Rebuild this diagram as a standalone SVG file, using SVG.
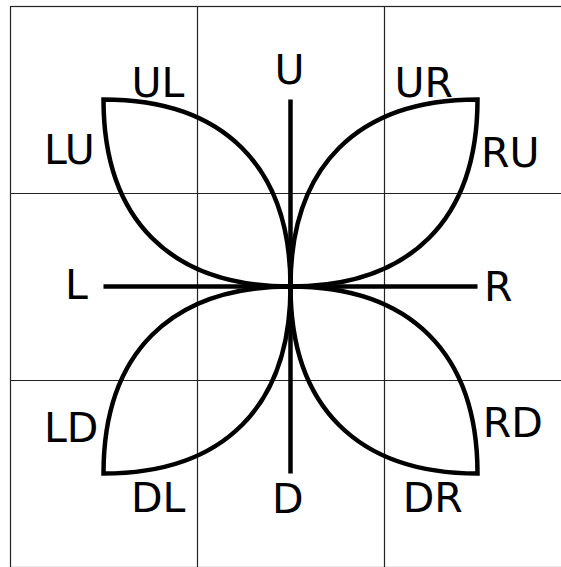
<svg xmlns="http://www.w3.org/2000/svg" width="561" height="567" viewBox="0 0 561 567">
<style>
.grid{fill:none;stroke:#222;stroke-width:1.2}
.petal{fill:none;stroke:#000;stroke-width:4.5;stroke-linejoin:miter}
.axis{stroke:#000;stroke-width:4.5;fill:none}
.lbl{font-family:"DejaVu Sans",sans-serif;font-size:41px;fill:#000}
</style>
<rect width="561" height="567" fill="#fff"/>
<g id="grid">
<rect class="grid" x="10.5" y="6.5" width="561" height="561"/>
<line class="grid" x1="197.5" y1="6.5" x2="197.5" y2="567"/>
<line class="grid" x1="384.5" y1="6.5" x2="384.5" y2="567"/>
<line class="grid" x1="10.5" y1="193.5" x2="561" y2="193.5"/>
<line class="grid" x1="10.5" y1="380.5" x2="561" y2="380.5"/>
</g>
<g id="connectors">
<line class="axis" x1="290.5" y1="99.5" x2="290.5" y2="473.5"/>
<line class="axis" x1="103.5" y1="286.5" x2="477.5" y2="286.5"/>
</g>
<g id="petal-ul"><path class="petal" d="M103.5 99.5 C223.5 99.5 290.5 166.5 290.5 286.5 C170.5 286.5 103.5 219.5 103.5 99.5 Z"/></g>
<g id="petal-ur"><path class="petal" d="M477.5 99.5 C357.5 99.5 290.5 166.5 290.5 286.5 C410.5 286.5 477.5 219.5 477.5 99.5 Z"/></g>
<g id="petal-dl"><path class="petal" d="M103.5 473.5 C223.5 473.5 290.5 406.5 290.5 286.5 C170.5 286.5 103.5 353.5 103.5 473.5 Z"/></g>
<g id="petal-dr"><path class="petal" d="M477.5 473.5 C357.5 473.5 290.5 406.5 290.5 286.5 C410.5 286.5 477.5 353.5 477.5 473.5 Z"/></g>
<g id="labels">
<text class="lbl" x="274.4" y="84">U</text>
<text class="lbl" x="272" y="513">D</text>
<text class="lbl" x="65" y="299">L</text>
<text class="lbl" x="484" y="301">R</text>
<text class="lbl" x="131.4" y="97">UL</text>
<text class="lbl" x="44" y="164">LU</text>
<text class="lbl" x="394.4" y="97">UR</text>
<text class="lbl" x="481" y="167">RU</text>
<text class="lbl" x="44" y="442">LD</text>
<text class="lbl" x="131" y="512">DL</text>
<text class="lbl" x="482.7" y="437">RD</text>
<text class="lbl" x="402.7" y="512">DR</text>
</g>
</svg>
